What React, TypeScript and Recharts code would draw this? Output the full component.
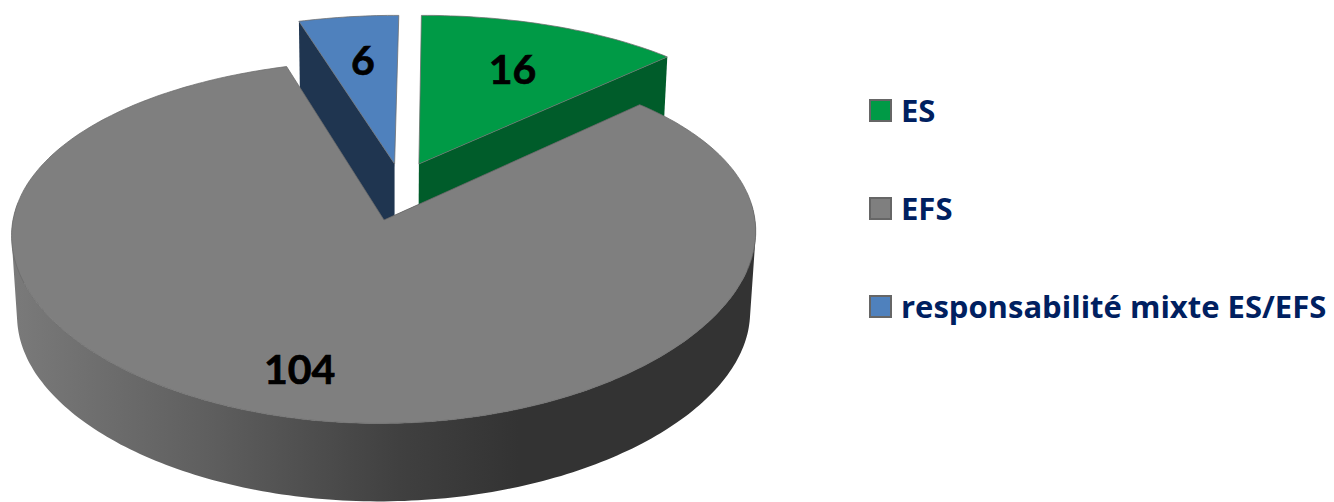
import { PieChart, Pie, Legend } from 'recharts';

const categories = ['ES', 'EFS', 'responsabilité mixte ES/EFS'];
const counts = [16, 104, 6];
const topColors = ['#009a46', '#7f7f7f', '#4f81bd'];
const sideColors = ['#005c2a', 'url(#efsWall)', '#1f3550'];

const rows = categories.map((name, i) => ({
  name, value: counts[i], fill: topColors[i], side: sideColors[i],
}));

// fake 3D: the disc lies in a tilted plane, far side shrinks a bit
const TILT = 0.4825;
const PERSPECTIVE_X = 0.075;
const PERSPECTIVE_Y = 0.12;
const SKEW = 0.013;
const DEPTH = 81;
const BOTTOM_SCALE = 0.985;

// how far each wedge is pulled away from the centre, in radius units
const EXPLODE: Record<string, [number, number]> = {
  ES: [0.092, 0.325],
  EFS: [0, 0],
  'responsabilité mixte ES/EFS': [0.025, 0.325],
};

// where the value sits along the wedge's middle, plus a small sideways nudge in px
const LABEL_AT: Record<string, [number, number]> = {
  ES: [0.67, 2],
  EFS: [0.78, -5],
  'responsabilité mixte ES/EFS': [0.69, 1],
};

const RAD = Math.PI / 180;

function project(cx: number, cy: number, r: number, x: number, y: number, lower = false) {
  const sx = 1 / (1 + PERSPECTIVE_X * y);
  const sy = 1 / (1 + PERSPECTIVE_Y * y);
  const b = lower ? BOTTOM_SCALE : 1;
  return [
    cx + (x * sx + SKEW * y) * r * b,
    cy + (lower ? DEPTH : 0) - y * r * TILT * sy * b,
  ];
}

const toPath = (pts: number[][]) =>
  pts.map((p, i) => `${i ? 'L' : 'M'}${p[0].toFixed(1)} ${p[1].toFixed(1)}`).join(' ') + ' Z';

// same winding for every quad, otherwise nonzero fill punches holes where they overlap
function wound(pts: number[][]) {
  const area = pts.reduce((sum, p, i) => {
    const q = pts[(i + 1) % pts.length];
    return sum + p[0] * q[1] - q[0] * p[1];
  }, 0);
  return area < 0 ? [...pts].reverse() : pts;
}

function WedgeShape(props: any) {
  const { cx, cy, outerRadius: r, startAngle, endAngle, name, fill, side } = props;
  const [ox, oy] = EXPLODE[name];
  const steps = Math.max(2, Math.ceil(Math.abs(endAngle - startAngle)));
  const angleAt = (i: number) => (startAngle + ((endAngle - startAngle) * i) / steps) * RAD;

  const arc = (lower: boolean) => {
    const pts: number[][] = [];
    for (let i = 0; i <= steps; i++) {
      const a = angleAt(i);
      pts.push(project(cx, cy, r, ox + Math.cos(a), oy + Math.sin(a), lower));
    }
    return pts;
  };
  const topArc = arc(false);
  const lowArc = arc(true);
  const apex = project(cx, cy, r, ox, oy);
  const lowApex = project(cx, cy, r, ox, oy, true);

  // outer wall, near half of the rim only
  const wall = topArc.slice(1)
    .map((p, i) => (Math.sin(angleAt(i)) < 0.1
      ? toPath(wound([topArc[i], p, lowArc[i + 1], lowArc[i]]))
      : ''))
    .join(' ');
  // only the cut edge whose outer corner is nearer the viewer shows its wall
  const edge = topArc[0][1] > topArc[steps][1] ? 0 : steps;

  return (
    <g>
      <defs>
        <linearGradient id="efsWall" gradientUnits="userSpaceOnUse" x1="12" y1="0" x2="757" y2="0">
          <stop offset="0" stopColor="#7a7a7a" />
          <stop offset="0.26" stopColor="#5f5f5f" />
          <stop offset="0.52" stopColor="#404040" />
          <stop offset="0.68" stopColor="#333333" />
          <stop offset="1" stopColor="#333333" />
        </linearGradient>
      </defs>
      {wall && <path d={wall} fill={side} />}
      <path d={toPath([apex, topArc[edge], lowArc[edge], lowApex])} fill={side} />
      <path d={toPath([apex, ...topArc])} fill={fill} stroke="#6b6b6b" strokeWidth={0.75} />
    </g>
  );
}

// the big slice has to sit over the two pulled-out ones, so it gets its own pass
const BackWedges = (props: any) => (props.name === 'EFS' ? <g /> : <WedgeShape {...props} />);
const FrontWedge = (props: any) => (props.name === 'EFS' ? <WedgeShape {...props} /> : <g />);

function ValueLabel(props: any) {
  const { cx, cy, outerRadius: r, midAngle, name, value } = props;
  const [ox, oy] = EXPLODE[name];
  const a = midAngle * RAD;
  const [f, nudge] = LABEL_AT[name];
  const [x, y] = project(cx, cy, r, ox + f * Math.cos(a), oy + f * Math.sin(a));
  return (
    <text x={x + nudge} y={y} textAnchor="middle" dominantBaseline="central"
      fontFamily="Lato" fontWeight={700} fontSize={41} fill="#000" stroke="#000" strokeWidth={0.7}>
      {value}
    </text>
  );
}

function LegendList({ payload }: any) {
  // both Pie passes report their items, keep the first of each
  const items = (payload ?? []).filter(
    (item: any, i: number, all: any[]) => all.findIndex(o => o.value === item.value) === i,
  );
  return (
    <div>
      {items.map((item: any) => (
        <div key={item.value} style={{ display: 'flex', alignItems: 'center', height: 98 }}>
          <span style={{
            width: 19, height: 19, background: item.color, border: '2px solid #666',
            marginRight: 9, flex: 'none',
          }} />
          <span style={{ fontFamily: 'Open Sans', fontWeight: 700, fontSize: 31, color: '#002060', whiteSpace: 'nowrap' }}>
            {item.value}
          </span>
        </div>
      ))}
    </div>
  );
}

export default function App() {
  return (
    <div style={{ position: 'absolute', left: 0, top: 0, width: 1334, height: 502, overflow: 'hidden', background: '#fff' }}>
      <PieChart width={1334} height={502} margin={{ top: 0, right: 0, bottom: 0, left: 0 }}>
        <Pie data={rows} dataKey="value" nameKey="name" cx={384} cy={220} outerRadius={371}
          startAngle={90} endAngle={-270} stroke="none" shape={BackWedges}
          label={false} labelLine={false} isAnimationActive={false} />
        <Pie data={rows} dataKey="value" nameKey="name" cx={384} cy={220} outerRadius={371}
          startAngle={90} endAngle={-270} stroke="none" shape={FrontWedge} legendType="none"
          label={ValueLabel} labelLine={false} isAnimationActive={false} />
        <Legend layout="vertical" align="right" verticalAlign="top" content={LegendList} itemSorter={null}
          wrapperStyle={{ top: 61, left: 869, right: 'auto', width: 465 }} />
      </PieChart>
    </div>
  );
}
